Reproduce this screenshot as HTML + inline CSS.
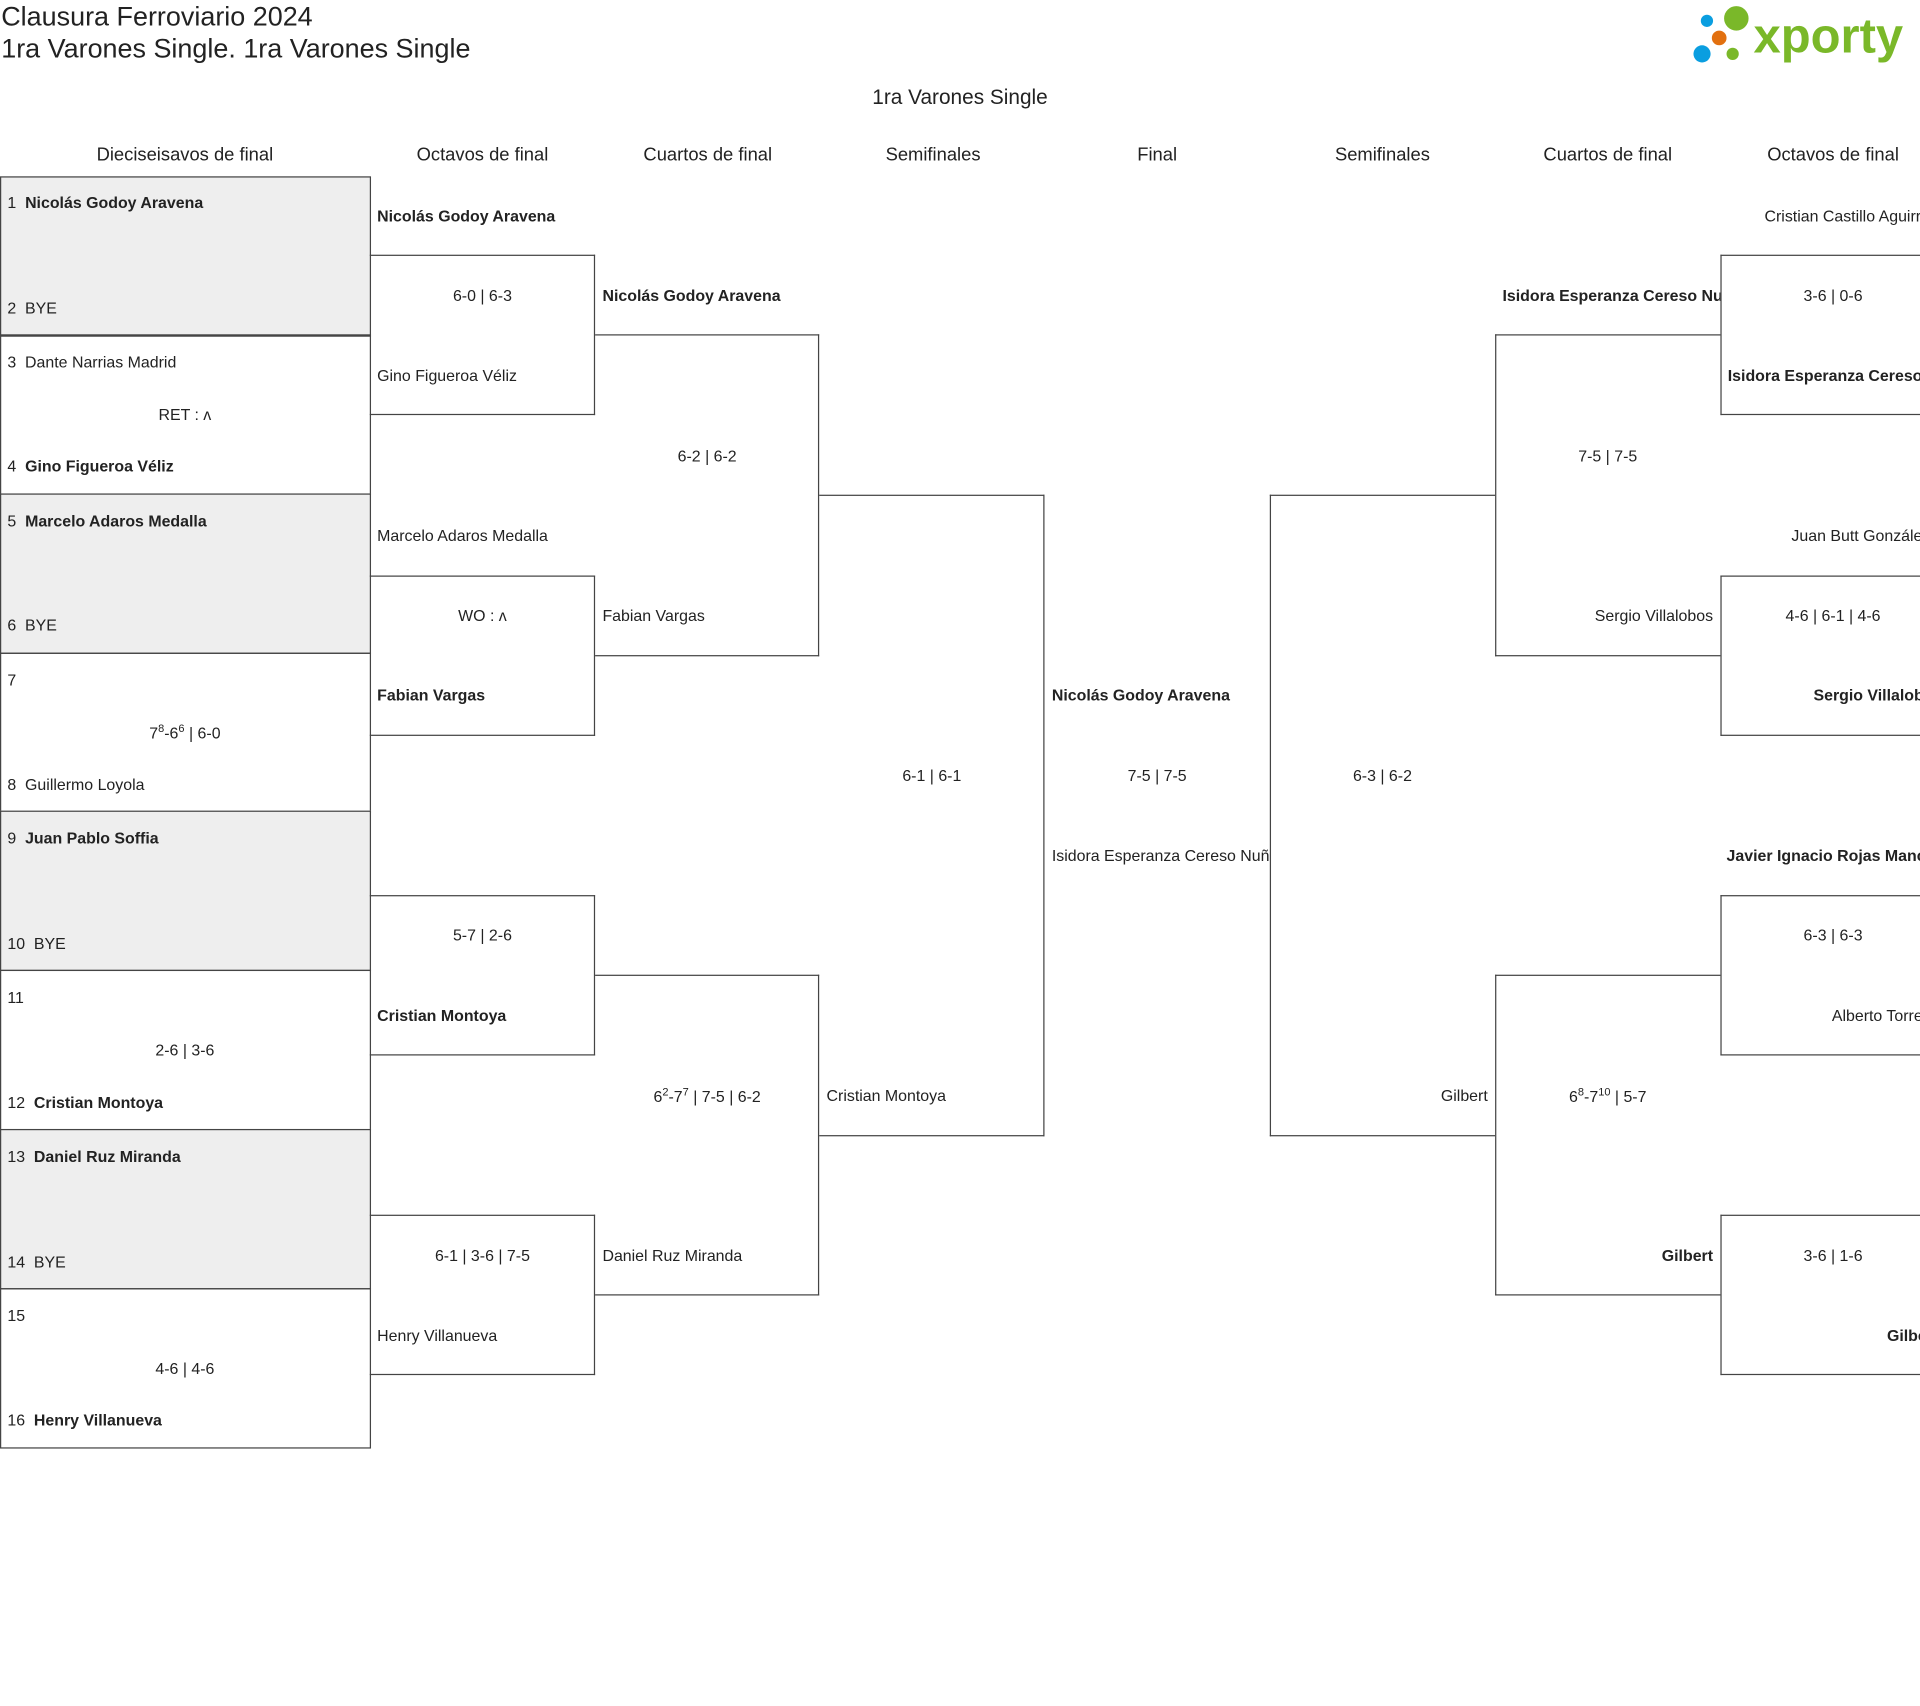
<!DOCTYPE html>
<html><head><meta charset="utf-8"><style>
html,body{margin:0;padding:0;background:#fff;width:1920px;height:1705px;overflow:hidden}
#w{position:absolute;left:0;top:0;width:1568px;height:1393px;transform:scale(1.22449);transform-origin:0 0;overflow:hidden;font-family:"Liberation Sans",sans-serif;color:#222}
.t{position:absolute;font-size:13px;line-height:16px;white-space:nowrap;margin-top:1px}
.c{text-align:center}
.b{font-weight:bold}
.h{position:absolute;font-size:15px;line-height:18px;text-align:center;white-space:nowrap;margin-top:1px}
.r1{position:absolute;left:0;width:301px;height:129px;border:1px solid #444}
.g{background:#eee}
.L{position:absolute;border:1px solid #444;border-left:none}
.R{position:absolute;border:1px solid #444;border-right:none}
sup{font-size:9px;line-height:0}
</style></head><body><div id="w">
<div style="position:absolute;left:1px;top:1px;font-size:22px;line-height:26px">Clausura Ferroviario 2024<br>1ra Varones Single. 1ra Varones Single</div>
<svg style="position:absolute;left:1378px;top:2px" width="60" height="54"><circle cx="16" cy="15" r="5" fill="#0a9ee0"/><circle cx="40" cy="13" r="10" fill="#7ab829"/><circle cx="26" cy="29" r="6" fill="#e2700f"/><circle cx="12" cy="42" r="7" fill="#0a9ee0"/><circle cx="37" cy="42" r="5" fill="#7ab829"/></svg>
<div style="position:absolute;left:1432px;top:6px;font-size:40px;line-height:48px;font-weight:bold;color:#7ab829">xporty</div>
<div class="h" style="left:684px;width:200px;top:70px;font-size:17px">1ra Varones Single</div>
<div class="h" style="left:51px;width:200px;top:117px">Dieciseisavos de final</div>
<div class="h" style="left:294px;width:200px;top:117px">Octavos de final</div>
<div class="h" style="left:478px;width:200px;top:117px">Cuartos de final</div>
<div class="h" style="left:662px;width:200px;top:117px">Semifinales</div>
<div class="h" style="left:845px;width:200px;top:117px">Final</div>
<div class="h" style="left:1029px;width:200px;top:117px">Semifinales</div>
<div class="h" style="left:1213px;width:200px;top:117px">Cuartos de final</div>
<div class="h" style="left:1397px;width:200px;top:117px">Octavos de final</div>

<div class="r1 g" style="top:144px"></div>
<div class="r1" style="top:273px"></div>
<div class="r1 g" style="top:403px"></div>
<div class="r1" style="top:533px"></div>
<div class="r1 g" style="top:662px"></div>
<div class="r1" style="top:792px"></div>
<div class="r1 g" style="top:922px"></div>
<div class="r1" style="top:1052px"></div>

<div class="t" style="left:6px;top:157px">1&nbsp; <b>Nicolás Godoy Aravena</b></div>
<div class="t" style="left:6px;top:243px">2&nbsp; BYE</div>
<div class="t" style="left:6px;top:287px">3&nbsp; Dante Narrias Madrid</div>
<div class="t c" style="left:0;width:302px;top:330px">RET : ʌ</div>
<div class="t" style="left:6px;top:372px">4&nbsp; <b>Gino Figueroa Véliz</b></div>
<div class="t" style="left:6px;top:417px">5&nbsp; <b>Marcelo Adaros Medalla</b></div>
<div class="t" style="left:6px;top:502px">6&nbsp; BYE</div>
<div class="t" style="left:6px;top:547px">7</div>
<div class="t c" style="left:0;width:302px;top:590px">7<sup>8</sup>-6<sup>6</sup> | 6-0</div>
<div class="t" style="left:6px;top:632px">8&nbsp; Guillermo Loyola</div>
<div class="t" style="left:6px;top:676px">9&nbsp; <b>Juan Pablo Soffia</b></div>
<div class="t" style="left:6px;top:762px">10&nbsp; BYE</div>
<div class="t" style="left:6px;top:806px">11</div>
<div class="t c" style="left:0;width:302px;top:849px">2-6 | 3-6</div>
<div class="t" style="left:6px;top:892px">12&nbsp; <b>Cristian Montoya</b></div>
<div class="t" style="left:6px;top:936px">13&nbsp; <b>Daniel Ruz Miranda</b></div>
<div class="t" style="left:6px;top:1022px">14&nbsp; BYE</div>
<div class="t" style="left:6px;top:1066px">15</div>
<div class="t c" style="left:0;width:302px;top:1109px">4-6 | 4-6</div>
<div class="t" style="left:6px;top:1151px">16&nbsp; <b>Henry Villanueva</b></div>

<div class="L" style="left:302px;width:183px;top:208px;height:129px"></div>
<div class="L" style="left:302px;width:183px;top:470px;height:129px"></div>
<div class="L" style="left:302px;width:183px;top:731px;height:129px"></div>
<div class="L" style="left:302px;width:183px;top:992px;height:129px"></div>
<div class="t b" style="left:308px;top:168px">Nicolás Godoy Aravena</div>
<div class="t c" style="left:302px;width:184px;top:233px">6-0 | 6-3</div>
<div class="t" style="left:308px;top:298px">Gino Figueroa Véliz</div>
<div class="t" style="left:308px;top:429px">Marcelo Adaros Medalla</div>
<div class="t c" style="left:302px;width:184px;top:494px">WO : ʌ</div>
<div class="t b" style="left:308px;top:559px">Fabian Vargas</div>
<div class="t c" style="left:302px;width:184px;top:755px">5-7 | 2-6</div>
<div class="t b" style="left:308px;top:821px">Cristian Montoya</div>
<div class="t c" style="left:302px;width:184px;top:1017px">6-1 | 3-6 | 7-5</div>
<div class="t" style="left:308px;top:1082px">Henry Villanueva</div>

<div class="L" style="left:486px;width:182px;top:273px;height:261px"></div>
<div class="L" style="left:486px;width:182px;top:796px;height:260px"></div>
<div class="t b" style="left:492px;top:233px">Nicolás Godoy Aravena</div>
<div class="t c" style="left:486px;width:183px;top:364px">6-2 | 6-2</div>
<div class="t" style="left:492px;top:494px">Fabian Vargas</div>
<div class="t c" style="left:486px;width:183px;top:887px">6<sup>2</sup>-7<sup>7</sup> | 7-5 | 6-2</div>
<div class="t" style="left:492px;top:1017px">Daniel Ruz Miranda</div>

<div class="L" style="left:669px;width:183px;top:404px;height:522px"></div>
<div class="t c" style="left:669px;width:184px;top:625px">6-1 | 6-1</div>
<div class="t" style="left:675px;top:886px">Cristian Montoya</div>

<div style="position:absolute;left:853px;width:184px;top:0;height:1393px;overflow:hidden">
<div class="t b" style="left:6px;top:559px">Nicolás Godoy Aravena</div>
<div class="t c" style="left:0;width:184px;top:625px">7-5 | 7-5</div>
<div class="t" style="left:6px;top:690px">Isidora Esperanza Cereso Nuñez</div>
</div>

<div class="R" style="left:1037px;width:183px;top:404px;height:522px"></div>
<div class="t c" style="left:1037px;width:184px;top:625px">6-3 | 6-2</div>
<div class="t" style="left:1037px;width:178px;text-align:right;top:886px">Gilbert</div>

<div class="R" style="left:1221px;width:183px;top:273px;height:261px"></div>
<div class="R" style="left:1221px;width:183px;top:796px;height:260px"></div>
<div style="position:absolute;left:1221px;width:184px;top:0;height:300px;overflow:hidden"><div class="t b" style="left:6px;top:233px">Isidora Esperanza Cereso Nuñez</div></div>
<div class="t c" style="left:1221px;width:184px;top:364px">7-5 | 7-5</div>
<div class="t" style="left:1221px;width:178px;text-align:right;top:494px">Sergio Villalobos</div>
<div class="t c" style="left:1221px;width:184px;top:887px">6<sup>8</sup>-7<sup>10</sup> | 5-7</div>
<div class="t b" style="left:1221px;width:178px;text-align:right;top:1017px">Gilbert</div>

<div class="R" style="left:1405px;width:200px;top:208px;height:129px"></div>
<div class="R" style="left:1405px;width:200px;top:470px;height:129px"></div>
<div class="R" style="left:1405px;width:200px;top:731px;height:129px"></div>
<div class="R" style="left:1405px;width:200px;top:992px;height:129px"></div>
<div class="t" style="left:1441px;top:168px">Cristian Castillo Aguirre</div>
<div class="t c" style="left:1405px;width:184px;top:233px">3-6 | 0-6</div>
<div class="t b" style="left:1411px;top:298px">Isidora Esperanza Cereso Nuñez</div>
<div class="t" style="left:1463px;top:429px">Juan Butt González</div>
<div class="t c" style="left:1405px;width:184px;top:494px">4-6 | 6-1 | 4-6</div>
<div class="t b" style="left:1481px;top:559px">Sergio Villalobos</div>
<div class="t b" style="left:1410px;top:690px">Javier Ignacio Rojas Mancilla</div>
<div class="t c" style="left:1405px;width:184px;top:755px">6-3 | 6-3</div>
<div class="t" style="left:1496px;top:821px">Alberto Torres</div>
<div class="t c" style="left:1405px;width:184px;top:1017px">3-6 | 1-6</div>
<div class="t b" style="left:1541px;top:1082px">Gilbert</div>
</div></body></html>
